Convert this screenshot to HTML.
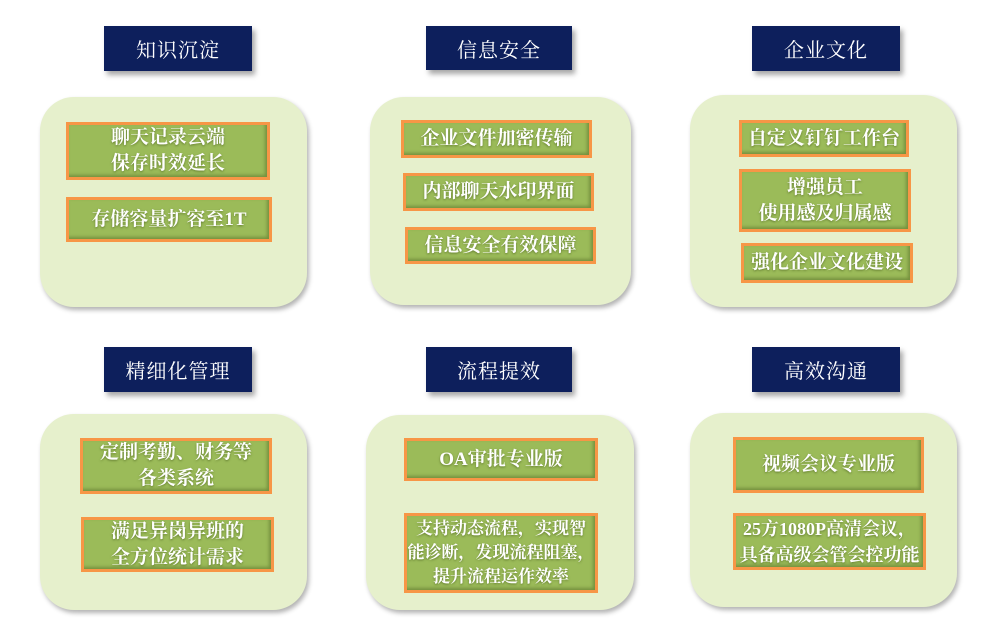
<!DOCTYPE html>
<html><head><meta charset="utf-8"><style>
body{margin:0;width:1004px;height:638px;background:#fff;position:relative;overflow:hidden;font-family:"Liberation Serif","Noto Serif CJK SC","Noto Sans CJK SC",serif;}
.h{position:absolute;background:#0d1f5c;color:#fff;font-size:20px;display:flex;align-items:center;justify-content:center;box-shadow:3px 4px 5px rgba(0,0,0,.35);letter-spacing:1px;}
.p{position:absolute;background:#e6f0cc;border-radius:34px;box-shadow:2px 3px 5px rgba(0,0,0,.3);}
.b{position:absolute;background:#9bbb59;border:3px solid #f79646;box-sizing:border-box;color:#fff;font-size:19px;font-weight:bold;display:flex;align-items:center;justify-content:center;text-align:center;line-height:26px;white-space:nowrap;text-shadow:0 1px 2px rgba(60,80,20,.6);box-shadow:inset -2px -2px 3px rgba(60,80,20,.4);}
</style></head><body>
<div class="h" style="left:104px;top:26px;width:148px;height:45px">知识沉淀</div>
<div class="h" style="left:426px;top:26px;width:146px;height:44px">信息安全</div>
<div class="h" style="left:752px;top:26px;width:148px;height:45px">企业文化</div>
<div class="h" style="left:104px;top:347px;width:148px;height:45px">精细化管理</div>
<div class="h" style="left:426px;top:347px;width:146px;height:45px">流程提效</div>
<div class="h" style="left:752px;top:347px;width:148px;height:45px">高效沟通</div>

<div class="p" style="left:40px;top:97px;width:267px;height:210px"></div>
<div class="p" style="left:370px;top:97px;width:261px;height:208px"></div>
<div class="p" style="left:690px;top:95px;width:267px;height:212px"></div>
<div class="p" style="left:40px;top:414px;width:267px;height:196px"></div>
<div class="p" style="left:366px;top:415px;width:268px;height:195px"></div>
<div class="p" style="left:690px;top:413px;width:267px;height:194px"></div>

<div class="b" style="left:66px;top:122px;width:204px;height:58px">聊天记录云端<br>保存时效延长</div>
<div class="b" style="left:66px;top:197px;width:206px;height:45px">存储容量扩容至1T</div>

<div class="b" style="left:401px;top:120px;width:191px;height:38px">企业文件加密传输</div>
<div class="b" style="left:403px;top:173px;width:191px;height:38px">内部聊天水印界面</div>
<div class="b" style="left:405px;top:227px;width:191px;height:37px">信息安全有效保障</div>

<div class="b" style="left:739px;top:120px;width:170px;height:37px">自定义钉钉工作台</div>
<div class="b" style="left:739px;top:169px;width:172px;height:63px">增强员工<br>使用感及归属感</div>
<div class="b" style="left:741px;top:243px;width:172px;height:40px">强化企业文化建设</div>

<div class="b" style="left:80px;top:438px;width:192px;height:56px">定制考勤、财务等<br>各类系统</div>
<div class="b" style="left:81px;top:517px;width:193px;height:55px">满足异岗异班的<br>全方位统计需求</div>

<div class="b" style="left:404px;top:438px;width:194px;height:43px">OA审批专业版</div>
<div class="b" style="left:404px;top:513px;width:194px;height:80px;font-size:17px;line-height:24px">支持动态流程，实现智<br>能诊断，发现流程阻塞，<br>提升流程运作效率</div>

<div class="b" style="left:733px;top:437px;width:191px;height:56px">视频会议专业版</div>
<div class="b" style="left:733px;top:513px;width:193px;height:57px;font-size:18px">25方1080P高清会议，<br>具备高级会管会控功能</div>
</body></html>
